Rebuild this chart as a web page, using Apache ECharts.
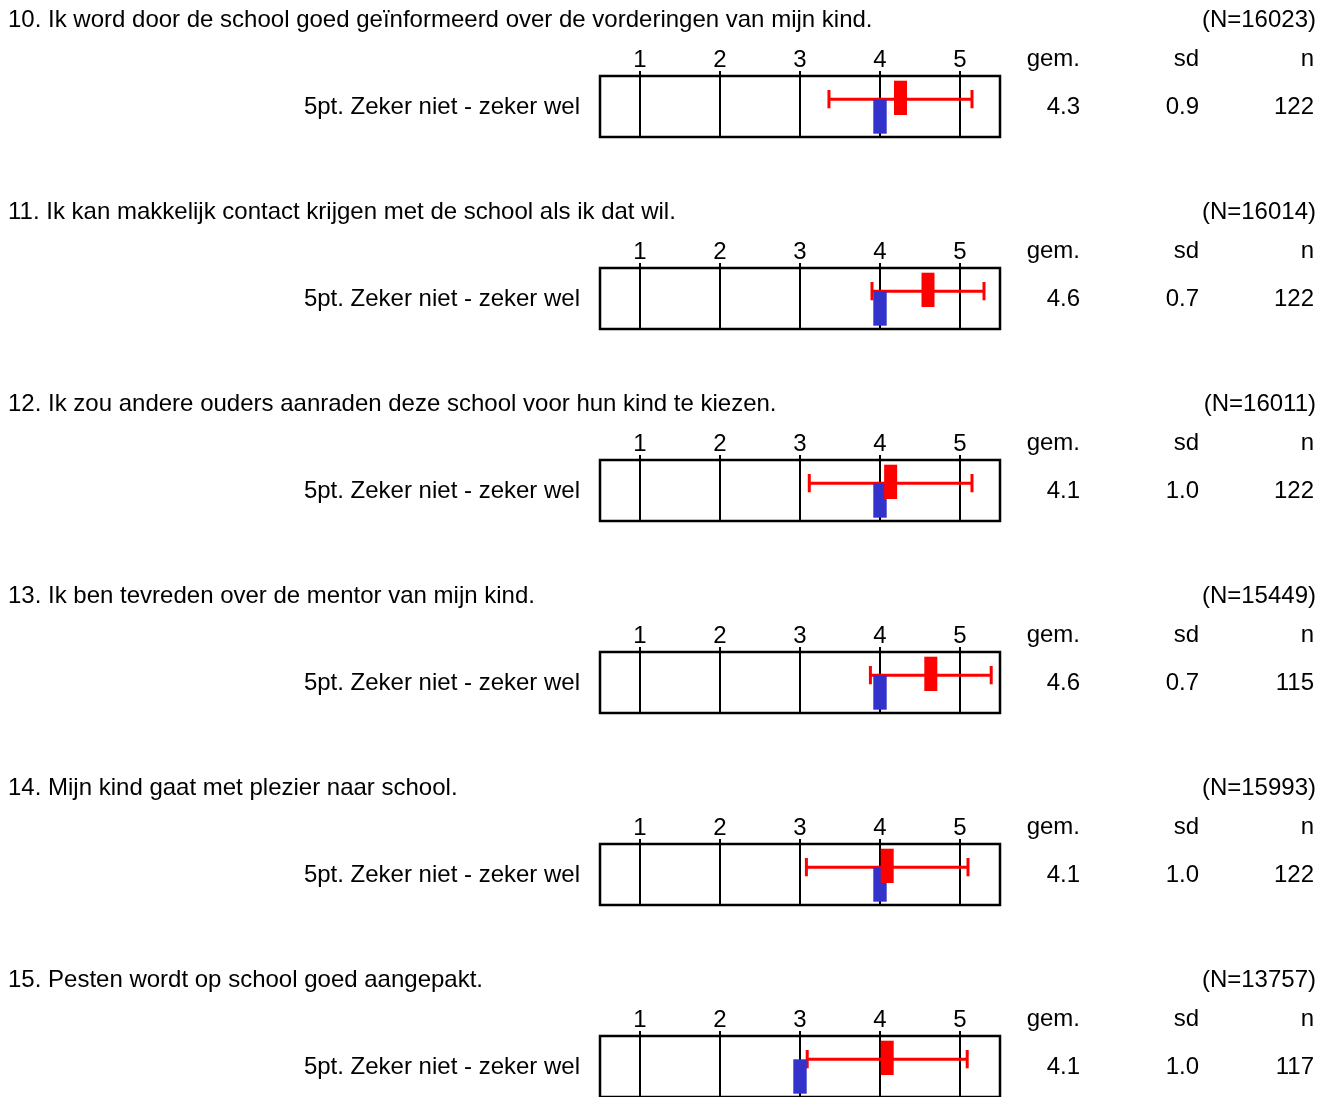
<!DOCTYPE html>
<html><head><meta charset="utf-8">
<script src="https://cdn.jsdelivr.net/npm/echarts@6/dist/echarts.min.js"></script>
<style>html,body{margin:0;padding:0;background:#fff}#c{width:1333px;height:1097px}</style>
</head><body><div id="c"></div>
<script>
const questions = [
  '10. Ik word door de school goed geïnformeerd over de vorderingen van mijn kind.',
  '11. Ik kan makkelijk contact krijgen met de school als ik dat wil.',
  '12. Ik zou andere ouders aanraden deze school voor hun kind te kiezen.',
  '13. Ik ben tevreden over de mentor van mijn kind.',
  '14. Mijn kind gaat met plezier naar school.',
  '15. Pesten wordt op school goed aangepakt.'
];
const totalN = [16023, 16014, 16011, 15449, 15993, 13757];
const scaleLabel = '5pt. Zeker niet - zeker wel';
const tickValues = [1, 2, 3, 4, 5];
const colHeaders = ['gem.', 'sd', 'n'];
const means = [4.256, 4.6, 4.133, 4.635, 4.09, 4.09];
const sds = [0.894, 0.7, 1.017, 0.755, 1.01, 1.0];
const medians = [4, 4, 4, 4, 4, 3];
const gemLabels = ['4.3', '4.6', '4.1', '4.6', '4.1', '4.1'];
const sdLabels = ['0.9', '0.7', '1.0', '0.7', '1.0', '1.0'];
const nValues = [122, 122, 122, 115, 122, 117];

const FONT = 'Liberation Sans';
const FS = 24;
const PITCH = 192;
const RED = '#ff0000';
const BLUE = '#3333cc';

const chart = echarts.init(document.getElementById('c'));

const grids = [], xAxes = [], yAxes = [], series = [], graphics = [];

function txt(text, x, y, align) {
  return {
    type: 'text', x: x, y: y,
    style: { text: String(text), x: 0, y: 0, align: align, verticalAlign: 'middle',
             fill: '#000', font: FS + 'px "' + FONT + '"' }
  };
}

questions.forEach((q, k) => {
  const base = PITCH * k;
  grids.push({ left: 600, top: 76 + base, width: 400, height: 61, show: true,
               borderColor: '#000', borderWidth: 2.5, backgroundColor: 'transparent' });
  xAxes.push({ gridIndex: k, type: 'value', min: 0.5, max: 5.5, position: 'top',
    axisLine: { show: false }, splitLine: { show: false }, axisTick: { show: false },
    axisLabel: { customValues: tickValues, fontSize: FS, color: '#000', fontFamily: FONT, margin: 4 } });
  yAxes.push({ gridIndex: k, type: 'value', min: 0, max: 61, inverse: true, show: false });

  // vertical grid lines at the scale points
  series.push({
    type: 'custom', xAxisIndex: k, yAxisIndex: k, silent: true, z: 1,
    data: tickValues.map(v => [v, 0]),
    renderItem: function (params, api) {
      const top = api.coord([api.value(0), 0]);
      const bot = api.coord([api.value(0), 61]);
      return { type: 'line', shape: { x1: top[0], y1: top[1] - 5, x2: bot[0], y2: bot[1] },
               style: { stroke: '#000', lineWidth: 2 } };
    }
  });

  // mean ± sd (red) and median (blue)
  series.push({
    type: 'custom', xAxisIndex: k, yAxisIndex: k, silent: true, z: 5,
    data: [[means[k], sds[k], medians[k]]],
    renderItem: function (params, api) {
      const m = api.value(0), s = api.value(1), md = api.value(2);
      const pl = api.coord([m - s, 23.3]);
      const pr = api.coord([m + s, 23.3]);
      const pm = api.coord([m, 4.7]);
      const pmB = api.coord([m, 39]);
      const pd = api.coord([md, 23.3]);
      const pdB = api.coord([md, 57.7]);
      const capT = api.coord([m, 14])[1], capB = api.coord([m, 32.3])[1];
      return { type: 'group', children: [
        { type: 'line', shape: { x1: pl[0], y1: pl[1], x2: pr[0], y2: pr[1] }, style: { stroke: RED, lineWidth: 3 } },
        { type: 'line', shape: { x1: pl[0], y1: capT, x2: pl[0], y2: capB }, style: { stroke: RED, lineWidth: 3 } },
        { type: 'line', shape: { x1: pr[0], y1: capT, x2: pr[0], y2: capB }, style: { stroke: RED, lineWidth: 3 } },
        { type: 'rect', shape: { x: pd[0] - 6.7, y: pd[1], width: 13.4, height: pdB[1] - pd[1] }, style: { fill: BLUE } },
        { type: 'rect', shape: { x: pm[0] - 6.5, y: pm[1], width: 13, height: pmB[1] - pm[1] }, style: { fill: RED } }
      ] };
    }
  });

  graphics.push(txt(q, 8, 20 + base, 'left'));
  graphics.push(txt('(N=' + totalN[k] + ')', 1316, 20 + base, 'right'));
  graphics.push(txt(colHeaders[0], 1080, 59 + base, 'right'));
  graphics.push(txt(colHeaders[1], 1199, 59 + base, 'right'));
  graphics.push(txt(colHeaders[2], 1314, 59 + base, 'right'));
  graphics.push(txt(scaleLabel, 580, 107 + base, 'right'));
  graphics.push(txt(gemLabels[k], 1080, 107 + base, 'right'));
  graphics.push(txt(sdLabels[k], 1199, 107 + base, 'right'));
  graphics.push(txt(nValues[k], 1314, 107 + base, 'right'));
});

chart.setOption({
  animation: false,
  backgroundColor: '#fff',
  grid: grids, xAxis: xAxes, yAxis: yAxes, series: series, graphic: graphics
});
</script></body></html>
